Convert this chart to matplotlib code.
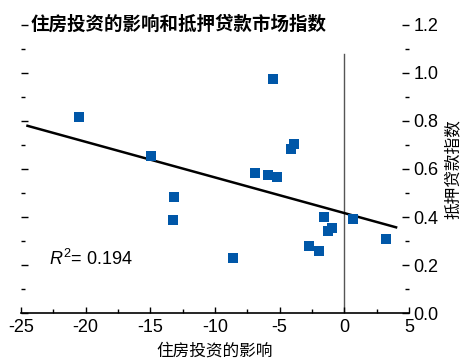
import matplotlib
matplotlib.use("Agg")
import matplotlib.pyplot as plt
from matplotlib.ticker import MultipleLocator, FormatStrFormatter

plt.rcParams["font.family"] = ["Liberation Sans", "Noto Sans CJK SC", "DejaVu Sans"]
plt.rcParams["axes.unicode_minus"] = False
plt.rcParams["mathtext.fontset"] = "custom"
plt.rcParams["mathtext.rm"] = "Liberation Sans"
plt.rcParams["mathtext.it"] = "Liberation Sans:italic"

# housing investment impact vs mortgage market index
housing_impact = [-20.55, -14.96, -5.54, -13.2, -13.28, -6.94, -5.93, -5.24,
                  -3.92, -4.15, -1.6, -1.29, -0.98, -2.77, -1.96, 0.64, 3.25, -8.62]
mortgage_index = [0.817, 0.656, 0.975, 0.485, 0.386, 0.585, 0.577, 0.568,
                  0.705, 0.685, 0.402, 0.34, 0.353, 0.279, 0.258, 0.39, 0.307, 0.229]

# fitted trend line endpoints
trend_x = [-24.5, 4.0]
trend_y = [0.78, 0.357]
r_squared = 0.194

fig = plt.figure(figsize=(4.63, 3.59), dpi=100)
ax = fig.add_axes([0.0454, 0.1281, 0.838, 0.8023])

ax.axvline(0, ymin=0, ymax=1.08 / 1.2, color="#555555", linewidth=1.0, zorder=1)
ax.plot(trend_x, trend_y, color="black", linewidth=1.8, zorder=2)
ax.scatter(housing_impact, mortgage_index, marker="s", s=52, color="#0057a8",
           linewidths=0, zorder=3)

ax.set_xlim(-25, 5)
ax.set_ylim(0, 1.2)
ax.xaxis.set_major_locator(MultipleLocator(5))
ax.xaxis.set_minor_locator(MultipleLocator(2.5))
ax.yaxis.set_major_locator(MultipleLocator(0.2))
ax.yaxis.set_minor_locator(MultipleLocator(0.1))
ax.yaxis.set_major_formatter(FormatStrFormatter("%.1f"))

for side in ("left", "right", "top"):
    ax.spines[side].set_visible(False)
ax.spines["bottom"].set_linewidth(1.2)

ax.tick_params(axis="both", which="both", direction="in", labelsize=13)
ax.tick_params(axis="y", which="major", length=5, width=1, left=True, right=True,
               labelleft=False, labelright=True, pad=3)
ax.tick_params(axis="y", which="minor", length=3, width=1, left=True, right=True)
ax.tick_params(axis="x", which="major", length=4, width=1, pad=4)
ax.tick_params(axis="x", which="minor", length=3, width=1)

ax.set_xlabel("住房投资的影响", fontsize=12, family=["Noto Sans CJK SC"], labelpad=5)
ax.yaxis.set_label_position("right")
ax.set_ylabel("抵押贷款指数", fontsize=12, family=["Noto Sans CJK SC"], labelpad=5)

ax.text(-22.8, 0.2, r"$R^2$" + f"= {r_squared:.3f}", fontsize=13)
fig.text(0.066, 0.932, "住房投资的影响和抵押贷款市场指数", fontsize=13.3,
         fontweight="bold", family=["Noto Sans CJK SC"], va="center", ha="left")

fig.savefig("out.png", dpi=100)
